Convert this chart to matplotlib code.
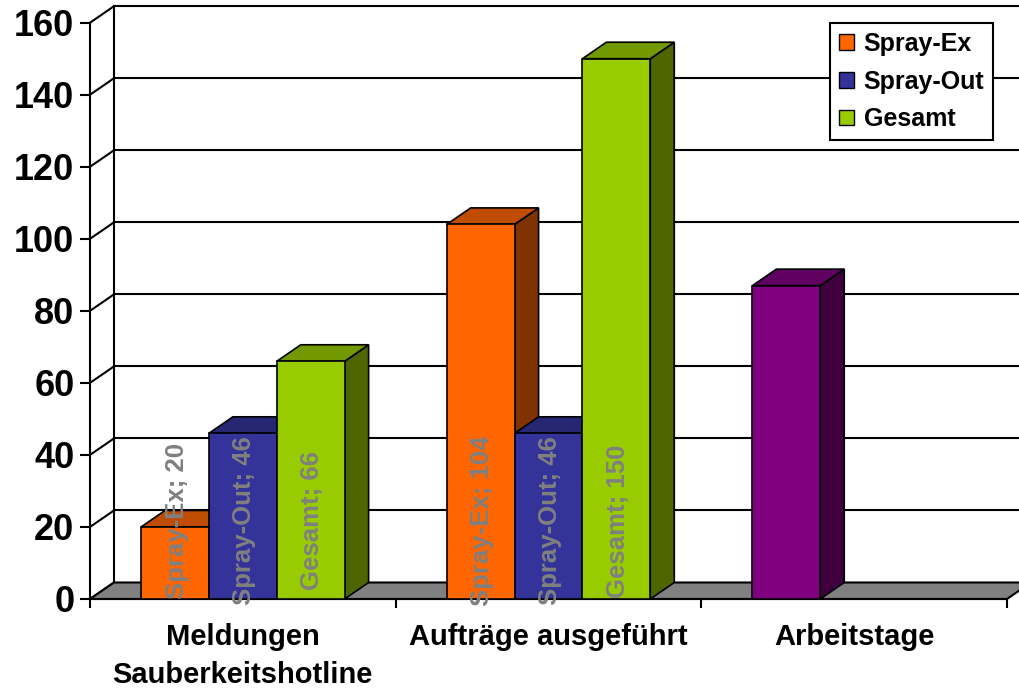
import numpy as np
import matplotlib.pyplot as plt
from matplotlib.patches import Polygon, Patch

# data
categories = ["Meldungen\nSauberkeitshotline", "Aufträge ausgeführt", "Arbeitstage"]
series = ["Spray-Ex", "Spray-Out", "Gesamt"]
spray_ex = [20, 104, 87]
spray_out = [46, 46, np.nan]
gesamt = [66, 150, np.nan]
values = [spray_ex, spray_out, gesamt]
show_labels = [True, True, False]

# colours (front, top, side); Arbeitstage point is purple
front_cols = ["#FF6600", "#333399", "#99CC00"]
top_cols = ["#C04C00", "#262673", "#739900"]
side_cols = ["#803300", "#1A1A4D", "#4D6600"]
special = {(0, 2): ("#800080", "#600060", "#400040")}

plt.rcParams['font.family'] = ['Liberation Sans', 'DejaVu Sans']
plt.rcParams['font.weight'] = 'bold'

fig = plt.figure(figsize=(10.2, 6.88), dpi=100)
ax = fig.add_axes([90/1020, 89/688, 917/1020, 576.3/688])
ax.set_xlim(0, 3)
ax.set_ylim(0, 160)

DX = 24 / 305.7   # depth offset in x units
DY = 16.5 / 3.602   # depth offset in value units
W = 0.222
x = np.arange(len(categories)) + 0.5
lw = 1.5

# side wall and back wall gridlines
for v in range(0, 161, 20):
    ax.plot([0, DX], [v, v + DY], color='k', lw=lw, clip_on=False, zorder=1)
    ax.plot([DX, 3.3], [v + DY, v + DY], color='k', lw=lw, clip_on=False, zorder=1)
ax.plot([DX, DX], [DY, 160 + DY], color='k', lw=lw, clip_on=False, zorder=1)

# floor
floor = Polygon([(0, 0), (3, 0), (3 + DX, DY), (DX, DY)], closed=True,
                facecolor='#808080', edgecolor='k', lw=lw, clip_on=False, zorder=2)
ax.add_patch(floor)

z = 3
for i in range(len(categories)):
    for j in range(len(series)):
        v = values[j][i]
        if np.isnan(v):
            continue
        fc, tc, sc = special.get((j, i), (front_cols[j], top_cols[j], side_cols[j]))
        xl = x[i] + (j - 1) * W - W / 2
        side = Polygon([(xl + W, 0), (xl + W + DX, DY), (xl + W + DX, v + DY), (xl + W, v)],
                       closed=True, facecolor=sc, edgecolor='k', lw=1.2, clip_on=False, zorder=z)
        top = Polygon([(xl, v), (xl + W, v), (xl + W + DX, v + DY), (xl + DX, v + DY)],
                      closed=True, facecolor=tc, edgecolor='k', lw=1.2, clip_on=False, zorder=z)
        ax.add_patch(side)
        ax.add_patch(top)
        ax.bar(xl, v, W, align='edge', color=fc, edgecolor='k', lw=1.2, zorder=z + 0.5)
        z += 1
        if show_labels[i]:
            ax.text(xl + W / 2 + 0.005, 21.7, f"{series[j]}; {int(v)}", rotation=90,
                    ha='center', va='center', color='#808080', fontsize=18.5, zorder=50)

# axes
for s in ['top', 'right']:
    ax.spines[s].set_visible(False)
ax.spines['left'].set_linewidth(lw)
ax.spines['bottom'].set_linewidth(lw)
ax.spines['bottom'].set_zorder(2.5)
ax.set_yticks(range(0, 161, 20))
ax.tick_params(axis='y', labelsize=26, length=7.2, width=lw, pad=4)
ax.set_xticks(x)
ax.set_xticklabels(categories, fontsize=21, linespacing=1.45)
ax.tick_params(axis='x', which='major', length=0, pad=17)
ax.set_xticks([0, 1, 2, 3], minor=True)
ax.tick_params(axis='x', which='minor', length=6.5, width=lw, direction='out')

handles = [Patch(facecolor=c, edgecolor='k', lw=1) for c in front_cols]
leg = fig.legend(handles, series, loc='upper right', bbox_to_anchor=(993/1020, 1 - 23/688),
                 fontsize=18, frameon=True, fancybox=False, edgecolor='k', framealpha=1,
                 handlelength=0.6, handleheight=0.6, handletextpad=0.4,
                 labelspacing=0.55, borderpad=0.35, borderaxespad=0)
leg.get_frame().set_linewidth(lw)

fig.savefig('out.png', dpi=100)
